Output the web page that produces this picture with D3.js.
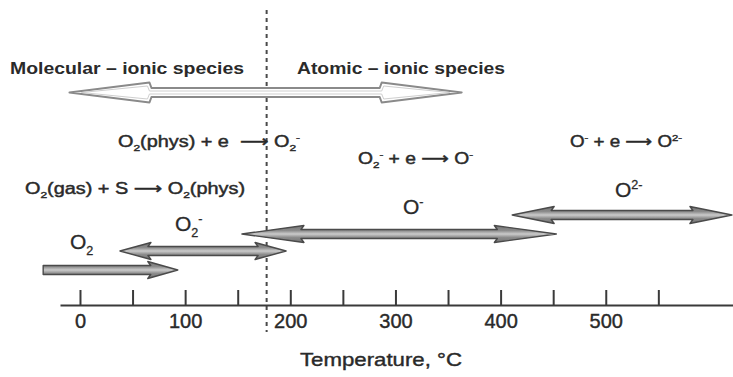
<!DOCTYPE html>
<html>
<head>
<meta charset="utf-8">
<script src="https://cdn.jsdelivr.net/npm/d3@7"></script>
<style>
  html, body { margin: 0; padding: 0; background: #fff; }
  svg { display: block; }
  text { font-family: "Liberation Sans", Arial, "DejaVu Sans", sans-serif; fill: #2a2a2a; white-space: pre; }
</style>
</head>
<body>
<svg id="chart" width="733" height="377"></svg>
<script>
// Temperature axis
const tickValues = [0, 50, 100, 150, 200, 250, 300, 350, 400, 450, 500, 550];
const tickLabels = ["0", "100", "200", "300", "400", "500"];
const axisTitle = "Temperature, °C";

// Regimes of adsorbed oxygen
const regimes = ["Molecular – ionic species", "Atomic – ionic species"];
const boundaryTemp = 177.5;
const regimeSpan = [-10, 363];

// Oxygen species and the temperature ranges where they dominate
const species = ["O_{2}", "O_{2}^{-}", "O^{-}", "O^{2-}"];
const rangeStart = [-35, 38, 154, 411];
const rangeEnd = [93, 196, 453, 620];
const heads = ["end", "both", "both", "both"];

// Surface reactions
const reactions = [
  "O_{2}(gas) + S ⟶ O_{2}(phys)",
  "O_{2}(phys) + e  ⟶ O_{2}^{-}",
  "O_{2}^{-} + e ⟶ O^{-}",
  "O^{-} + e ⟶ O^{2-}"
];

// ---- layout ----
const axisY = 305;
const svg = d3.select("#chart");

const x = d3.scaleLinear().domain([-19, 621]).range([60, 733]);

// rich text with _{sub} and ^{sup}
function rich(sel, str, fs) {
  const parts = str.split(/(_\{[^}]*\}|\^\{[^}]*\})/);
  let shift = 0;
  parts.forEach(p => {
    if (!p) return;
    let target = 0, size = fs, txt = p;
    if (p.startsWith("_{")) { target = fs * 0.28; size = fs * 0.6; txt = p.slice(2, -1); }
    else if (p.startsWith("^{")) { target = -fs * 0.38; size = fs * 0.6; txt = p.slice(2, -1); }
    sel.append("tspan").attr("dy", target - shift).attr("font-size", size).text(txt);
    shift = target;
  });
}

// gradients
const defs = svg.append("defs");
const g1 = defs.append("linearGradient").attr("id", "shaftGrad")
  .attr("x1", 0).attr("y1", 0).attr("x2", 0).attr("y2", 1);
[[0, "#747474"], [0.3, "#8c8c8c"], [0.5, "#cbcbcb"], [0.7, "#8c8c8c"], [1, "#747474"]]
  .forEach(([o, c]) => g1.append("stop").attr("offset", o).attr("stop-color", c));

// arrow outline between two pixel x positions
function arrowPath(x0, x1, yc, left, right, L, s, h, b) {
  const p = d3.path();
  if (left) {
    p.moveTo(x0, yc);
    p.lineTo(x0 + L, yc - h);
    p.lineTo(x0 + L + b, yc - s);
  } else {
    p.moveTo(x0, yc + s);
    p.lineTo(x0, yc - s);
  }
  if (right) {
    p.lineTo(x1 - L - b, yc - s);
    p.lineTo(x1 - L, yc - h);
    p.lineTo(x1, yc);
    p.lineTo(x1 - L, yc + h);
    p.lineTo(x1 - L - b, yc + s);
  } else {
    p.lineTo(x1, yc - s);
    p.lineTo(x1, yc + s);
  }
  if (left) {
    p.lineTo(x0 + L + b, yc + s);
    p.lineTo(x0 + L, yc + h);
  }
  p.closePath();
  return p.toString();
}

// boundary between regimes
svg.append("line")
  .attr("x1", x(boundaryTemp)).attr("x2", x(boundaryTemp))
  .attr("y1", 10).attr("y2", 332)
  .attr("stroke", "#4a4a4a").attr("stroke-width", 2)
  .attr("stroke-dasharray", "4,4");

// regime titles
svg.append("text").attr("x", 10).attr("y", 74)
  .attr("font-size", 17).attr("font-weight", "bold")
  .attr("textLength", 234).attr("lengthAdjust", "spacingAndGlyphs")
  .text(regimes[0]);
svg.append("text").attr("x", 297).attr("y", 74)
  .attr("font-size", 17).attr("font-weight", "bold")
  .attr("textLength", 208).attr("lengthAdjust", "spacingAndGlyphs")
  .text(regimes[1]);

// hollow double arrow spanning the regimes
svg.append("path")
  .attr("d", arrowPath(x(regimeSpan[0]), x(regimeSpan[1]), 92.5, true, true, 80, 4.5, 10, 2))
  .attr("fill", "#fff").attr("stroke", "#8a8a8a").attr("stroke-width", 2)
  .attr("stroke-linejoin", "round");
svg.append("path")
  .attr("d", arrowPath(x(regimeSpan[0]) + 12, x(regimeSpan[1]) - 12, 92.5, true, true, 66, 1.5, 6.5, 2))
  .attr("fill", "none").attr("stroke", "#cfcfcf").attr("stroke-width", 1);

// reactions
const reactionPos = [[25, 194], [118, 147], [358, 164], [570, 147]];
const reactionLen = [220, 182, 115, 112];
reactions.forEach((r, i) => {
  const t = svg.append("text").attr("x", reactionPos[i][0]).attr("y", reactionPos[i][1])
    .attr("font-size", 16)
    .attr("stroke", "#2a2a2a").attr("stroke-width", 0.45)
    .attr("textLength", reactionLen[i]).attr("lengthAdjust", "spacingAndGlyphs");
  rich(t, r, 16);
});

// species arrows
const rowY = [270, 251, 234, 215];
const headLen = [30, 31, 62, 42];
svg.append("g").selectAll("path")
  .data(species)
  .join("path")
  .attr("d", (d, i) => arrowPath(x(rangeStart[i]), x(rangeEnd[i]), rowY[i],
    heads[i] === "both", true, headLen[i], 4.5, 8.5, -3))
  .attr("fill", "url(#shaftGrad)")
  .attr("stroke", "#4a4a4a").attr("stroke-width", 1.4)
  .attr("stroke-linejoin", "round");

// species labels
const labelPos = [[70, 249], [175, 231], [403, 214], [615, 197]];
species.forEach((s, i) => {
  const t = svg.append("text").attr("x", labelPos[i][0]).attr("y", labelPos[i][1])
    .attr("font-size", 21).attr("stroke", "#2a2a2a").attr("stroke-width", 0.3);
  rich(t, s, 21);
});

// axis
const axis = d3.axisBottom(x)
  .tickValues(tickValues)
  .tickSizeInner(-15).tickSizeOuter(0).tickPadding(9)
  .tickFormat(d => (d % 100 === 0 ? tickLabels[d / 100] : ""));
const ag = svg.append("g").attr("transform", `translate(0,${axisY})`).call(axis);
ag.select(".domain").attr("stroke", "#3a3a3a").attr("stroke-width", 2.2);
ag.selectAll(".tick line").attr("stroke", "#3a3a3a").attr("stroke-width", 2);
ag.selectAll(".tick text")
  .attr("font-size", 20).attr("fill", "#2a2a2a")
  .attr("stroke", "#2a2a2a").attr("stroke-width", 0.4)
  .attr("font-family", "\"Liberation Sans\", Arial, sans-serif");

svg.append("text").attr("x", 300).attr("y", 366)
  .attr("font-size", 19)
  .attr("stroke", "#2a2a2a").attr("stroke-width", 0.4)
  .attr("textLength", 162).attr("lengthAdjust", "spacingAndGlyphs")
  .text(axisTitle);
</script>
</body>
</html>
